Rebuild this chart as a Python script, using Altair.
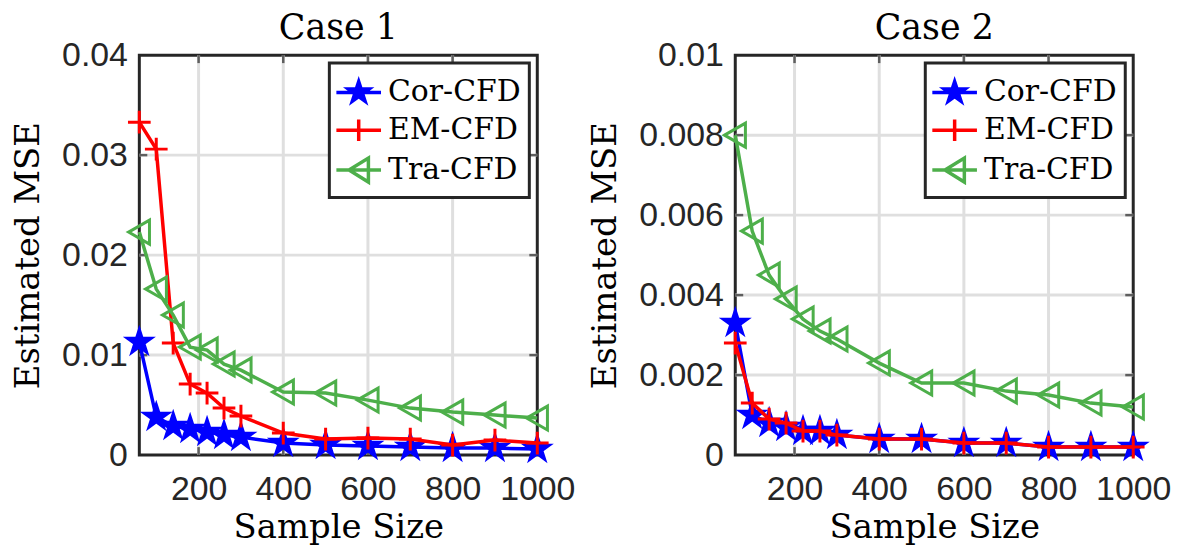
import math
import altair as alt
import pandas as pd

# ---------------- data ----------------
sample_size = [60, 100, 140, 180, 220, 260, 300, 400, 500, 600, 700, 800, 900, 1000]
series_names = ["Cor-CFD", "EM-CFD", "Tra-CFD"]

case1_cor = [0.0113, 0.0038, 0.0029, 0.0026, 0.0023, 0.0020, 0.0018, 0.0012, 0.0010, 0.0009, 0.0008, 0.0007, 0.0007, 0.0006]
case1_em = [0.0333, 0.0306, 0.0112, 0.0071, 0.0062, 0.0047, 0.0039, 0.0022, 0.0016, 0.0017, 0.0016, 0.0010, 0.0015, 0.0012]
case1_tra = [0.0223, 0.0166, 0.0140, 0.0108, 0.0105, 0.0091, 0.0085, 0.0063, 0.0062, 0.0055, 0.0047, 0.0043, 0.0040, 0.0037]

case2_cor = [0.0033, 0.0010, 0.0008, 0.0007, 0.0006, 0.0006, 0.0005, 0.0004, 0.0004, 0.0003, 0.0003, 0.0002, 0.0002, 0.0002]
case2_em = [0.0028, 0.0013, 0.0009, 0.0008, 0.0006, 0.0006, 0.0005, 0.0004, 0.0004, 0.0003, 0.0003, 0.0002, 0.0002, 0.0002]
case2_tra = [0.0080, 0.0056, 0.0045, 0.0039, 0.0034, 0.0031, 0.0029, 0.0023, 0.0018, 0.0018, 0.0016, 0.0015, 0.0013, 0.0012]

x_ticks = [200, 400, 600, 800, 1000]
x_grid = [200, 400, 600, 800]
case1_y_ticks = [0, 0.01, 0.02, 0.03, 0.04]
case1_y_grid = [0.01, 0.02, 0.03]
case2_y_ticks = [0, 0.002, 0.004, 0.006, 0.008, 0.01]
case2_y_grid = [0.002, 0.004, 0.006, 0.008]

# ---------------- styles ----------------
colors = {"Cor-CFD": "#0000ff", "EM-CFD": "#ff0000", "Tra-CFD": "#4daf4a"}
FRAME = "#262626"
SERIF = "DejaVu Serif"
SANS = "Liberation Sans"
W, H = 400, 402


def star_path(R, inner=0.382):
    pts = []
    for k in range(10):
        ang = -math.pi / 2 + k * math.pi / 5
        r = R if k % 2 == 0 else R * inner
        pts.append((r * math.cos(ang), r * math.sin(ang)))
    return "M" + "L".join(f"{x:.3f},{y:.3f}" for x, y in pts) + "Z"


plot_shapes = {
    "Cor-CFD": star_path(1.05),
    "EM-CFD": "M-0.95,0L0.95,0M0,-0.95L0,0.95",
    "Tra-CFD": "M-0.9,0L0.85,-1L0.85,1Z",
}
plot_fill = {"Cor-CFD": "#0000ff", "EM-CFD": "transparent", "Tra-CFD": "transparent"}

LINE = "M-1.15,0L1.15,0"
legend_shapes = [
    star_path(0.56) + LINE,
    LINE + "M0,-0.56L0,0.56",
    "M-0.5,0L0.5,-0.62L0.5,0.62Z" + LINE,
]
legend_fill = ["#0000ff", "transparent", "transparent"]


def panel(title, cor, em, tra, y_max, y_ticks, y_grid):
    rows = []
    for name, vals in zip(series_names, [cor, em, tra]):
        for s, v in zip(sample_size, vals):
            rows.append({"sample_size": s, "mse": v, "series": name})
    df = pd.DataFrame(rows)

    X = alt.X(
        "sample_size:Q",
        scale=alt.Scale(domain=[60, 1000], nice=False, zero=False),
        axis=alt.Axis(
            values=x_ticks, title="Sample Size", format="d", grid=False,
            ticks=False, domain=False, labelFlush=False, labelPadding=18,
            titlePadding=4,
        ),
    )
    Y = alt.Y(
        "mse:Q",
        scale=alt.Scale(domain=[0, y_max], nice=False, zero=True),
        axis=alt.Axis(
            values=y_ticks, title="Estimated MSE", format="~g", grid=False,
            ticks=False, domain=False, labelFlush=False, labelPadding=12,
            titlePadding=16,
        ),
    )

    xg = alt.Chart(pd.DataFrame({"sample_size": x_grid}))
    yg = alt.Chart(pd.DataFrame({"mse": y_grid}))
    layers = [
        xg.mark_rule(color="#dfdfdf", strokeWidth=3).encode(x=X),
        yg.mark_rule(color="#dfdfdf", strokeWidth=3).encode(y=Y),
        # inward tick marks on all four sides (MATLAB box style)
        xg.mark_tick(orient="vertical", color=FRAME, size=8, thickness=2.5)
          .encode(x=X, y=alt.value(4)),
        xg.mark_tick(orient="vertical", color=FRAME, size=8, thickness=2.5)
          .encode(x=X, y=alt.value(H - 4)),
        yg.mark_tick(orient="horizontal", color=FRAME, size=8, thickness=2.5)
          .encode(y=Y, x=alt.value(4)),
        yg.mark_tick(orient="horizontal", color=FRAME, size=8, thickness=2.5)
          .encode(y=Y, x=alt.value(W - 4)),
    ]
    base = alt.Chart(df)
    for name in series_names:
        sub = base.transform_filter(alt.datum.series == name)
        layers.append(
            sub.mark_line(color=colors[name], strokeWidth=3.5).encode(x=X, y=Y)
        )
        layers.append(
            sub.mark_point(
                shape=plot_shapes[name], size=576, fill=plot_fill[name],
                stroke=colors[name], strokeWidth=3, opacity=1,
            ).encode(x=X, y=Y)
        )

    leg = base.transform_filter("datum.mse < 0").mark_point(
        filled=False, strokeWidth=3.5, opacity=1
    ).encode(
        x=X,
        y=Y,
        shape=alt.Shape("series:N", title=None,
                        scale=alt.Scale(domain=series_names, range=legend_shapes)),
        stroke=alt.Stroke("series:N", title=None,
                          scale=alt.Scale(domain=series_names,
                                          range=[colors[n] for n in series_names])),
        fill=alt.Fill("series:N", title=None,
                      scale=alt.Scale(domain=series_names, range=legend_fill)),
    )
    layers.append(leg)

    return alt.layer(*layers).properties(
        width=W,
        height=H,
        title=alt.TitleParams(
            title, font=SERIF, fontSize=35, fontWeight="normal", color="black",
            offset=-8,
        ),
    )


left = panel("Case 1", case1_cor, case1_em, case1_tra, 0.04, case1_y_ticks, case1_y_grid)
right = panel("Case 2", case2_cor, case2_em, case2_tra, 0.01, case2_y_ticks, case2_y_grid)

chart = alt.hconcat(left, right, spacing=10).resolve_scale(
    shape="independent", stroke="independent", fill="independent"
).resolve_legend(
    shape="independent", stroke="independent", fill="independent"
).properties(
    padding={"left": 2, "top": 0, "right": 4, "bottom": 0},
    background="white",
).configure_view(
    stroke=FRAME, strokeWidth=3
).configure_axis(
    labelFont=SANS, labelFontSize=34, labelColor=FRAME,
    titleFont=SERIF, titleFontSize=34, titleFontWeight="normal", titleColor="black",
).configure_legend(
    orient="top-right", offset=8, labelFont=SERIF, labelFontSize=30,
    labelColor="black", symbolSize=1521, symbolStrokeWidth=3.5, padding=8,
    rowPadding=0, labelOffset=8, strokeColor=FRAME, strokeWidth=3,
    fillColor="white", symbolOpacity=1, labelLimit=400,
)

chart.save("out.html", embed_options={"renderer": "svg", "actions": False})
